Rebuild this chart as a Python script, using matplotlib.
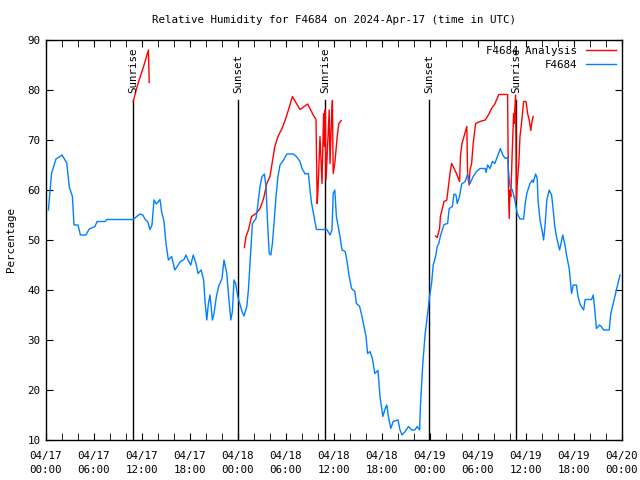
#!/usr/bin/env python3
"""Relative humidity for F4684 - observed vs. analysis, 3 days in UTC."""
import matplotlib
matplotlib.use('Agg')
import matplotlib.pyplot as plt

# ---------- Data (hours since 2024-04-17 00:00 UTC) ----------
obs_hours = [
    0.3, 0.7, 1.25, 2.0, 2.6, 2.9, 3.3, 3.5, 4.0, 4.3, 5.0, 5.4, 6.1, 6.4, 7.4, 7.6,
    10.9, 11.1, 11.75, 12.1, 12.4, 12.7, 13.0, 13.25, 13.5, 13.8, 14.25, 14.45, 14.75,
    15.0, 15.3, 15.7, 16.1, 16.4, 16.8, 17.25, 17.5, 17.75, 18.1, 18.4, 18.75, 19.0,
    19.4, 19.7, 19.9, 20.1, 20.3, 20.5, 20.8, 21.0, 21.3, 21.6, 22.0, 22.25, 22.6,
    22.8, 23.1, 23.3, 23.5, 23.7, 24.0, 24.5, 24.75, 25.1, 25.3, 25.5, 25.7, 25.8,
    26.25, 26.4, 26.75, 27.0, 27.3, 27.5, 27.7, 27.9, 28.1, 28.3, 28.5, 28.75, 29.0,
    29.25, 29.7, 30.1, 30.9, 31.3, 31.75, 32.0, 32.4, 32.8, 33.0, 33.2, 33.5, 33.8,
    35.1, 35.5, 35.75, 35.9, 36.1, 36.3, 36.75, 37.0, 37.4, 37.6, 37.9, 38.2, 38.6,
    38.8, 39.2, 39.5, 39.75, 40.0, 40.2, 40.5, 40.8, 41.1, 41.5, 41.75, 42.1, 42.4,
    42.6, 42.8, 43.1, 43.4, 44.0, 44.25, 44.5, 44.9, 45.3, 45.7, 46.1, 46.4, 46.7,
    46.8, 47.1, 47.4, 47.7, 48.0, 48.2, 48.4, 48.7, 48.9, 49.1, 49.3, 49.75, 50.2,
    50.4, 50.8, 51.0, 51.25, 51.4, 51.7, 51.96, 52.4, 52.7, 53.0, 53.4, 53.8, 54.25,
    54.9, 55.0, 55.2, 55.5, 55.8, 56.1, 56.5, 56.8, 57.1, 57.4, 57.7, 57.8, 58.0,
    58.3, 58.6, 58.9, 59.25, 59.7, 59.9, 60.1, 60.5, 60.8, 60.9, 61.2, 61.4, 61.5,
    61.75, 62.0, 62.2, 62.4, 62.6, 62.9, 63.2, 63.4, 63.6, 63.8, 64.2, 64.5, 64.6,
    64.9, 65.1, 65.4, 65.7, 65.9, 66.3, 66.5, 66.8, 67.2, 67.4, 68.2, 68.4, 68.6,
    68.8, 69.2, 69.4, 69.7, 70.4, 70.6, 70.9, 71.3, 71.75,
]
obs_rh = [
    56.0, 63.4, 66.2, 67.0, 65.4, 60.7, 58.7, 53.0, 53.0, 51.0, 51.0, 52.2, 52.7, 53.7, 53.7, 54.1,
    54.1, 54.4, 55.2, 55.0, 54.1, 53.7, 52.1, 53.0, 58.0, 57.2, 58.1, 55.7, 53.7,
    49.3, 46.0, 46.7, 44.0, 44.7, 45.7, 46.1, 47.0, 46.0, 45.0, 47.0, 45.3, 43.3,
    44.0, 42.0, 37.3, 34.0, 37.3, 39.0, 34.0, 35.3, 38.7, 40.8, 42.3, 46.0, 43.3,
    39.3, 34.0, 35.7, 42.0, 41.3, 38.5, 35.7, 34.8, 36.7, 40.0, 45.3, 50.7, 53.3,
    54.3, 56.0, 60.7, 62.7, 63.2, 60.7, 53.3, 47.3, 47.0, 49.3, 53.3, 58.7, 62.7,
    65.0, 66.0, 67.2, 67.2, 66.7, 65.7, 64.3, 63.2, 63.3, 60.0, 57.3, 54.7, 52.1,
    52.1, 51.0, 52.0, 59.3, 60.0, 54.7, 50.7, 48.0, 47.7, 46.0, 42.7, 40.3, 39.7,
    37.3, 36.7, 34.7, 32.7, 30.7, 27.3, 27.7, 26.3, 23.3, 23.9, 18.7, 14.7, 16.3,
    17.0, 14.7, 12.3, 13.7, 14.0, 12.0, 11.0, 11.7, 12.7, 12.0, 12.0, 12.7, 12.0,
    16.7, 25.3, 31.3, 35.3, 39.3, 41.3, 45.0, 46.7, 48.7, 49.3, 50.8, 53.1, 53.3,
    56.3, 56.7, 59.2, 59.0, 57.3, 58.8, 61.2, 61.7, 63.2, 61.3, 62.7, 63.7, 64.3,
    64.3, 63.5, 65.0, 64.3, 65.7, 65.3, 67.0, 68.3, 67.0, 66.3, 66.5, 64.0, 60.7,
    60.0, 58.0, 55.3, 54.2, 54.2, 57.3, 59.3, 61.3, 62.0, 61.5, 63.2, 62.3, 58.0,
    54.0, 52.0, 50.0, 53.3, 58.0, 60.0, 59.0, 56.0, 52.7, 50.7, 48.0, 50.3, 51.0,
    48.7, 46.7, 44.3, 39.3, 41.0, 41.0, 38.7, 37.0, 36.0, 38.1, 38.1, 39.0, 36.0,
    32.3, 33.0, 32.7, 32.0, 32.0, 35.3, 37.3, 40.0, 43.0,
]

# analysis series, None marks a gap
ana_hours = [
    10.9, 11.5, 12.2, 12.8, 12.9, None,
    24.8, 25.0, 25.3, 25.7, 26.25, 26.75, 27.2, 27.6, 28.0, 28.2, 28.6, 29.0, 29.5,
    29.9, 30.3, 30.8, 31.3, 31.75, 32.1, 32.7, 33.0, 33.4, 33.75, 33.9, 34.0, 34.25,
    34.5, 34.7, 34.8, 34.9, 35.0, 35.2, 35.4, 35.5, 35.7, 35.8, 35.9, 36.1, 36.25,
    36.4, 36.6, 36.9, None,
    48.7, 48.9, 49.2, 49.3, 49.6, 49.75, 50.1, 50.3, 50.5, 50.7, 50.9, 51.3, 51.7,
    51.8, 52.0, 52.3, 52.6, 52.7, 52.9, 53.0, 53.2, 53.4, 53.7, 54.25, 54.9, 55.3,
    55.7, 56.1, 56.6, 57.7, 57.8, 57.9, 58.0, 58.1, 58.3, 58.45, 58.5, 58.7, 58.8,
    58.9, 59.1, 59.25, 59.5, 59.7, 60.0, 60.2, 60.4, 60.6, 60.75, 60.9,
]
ana_rh = [
    77.7, 81.3, 84.7, 88.0, 81.5, None,
    48.5, 50.7, 52.0, 54.7, 55.3, 56.3, 58.3, 61.3, 62.7, 64.7, 68.7, 70.7, 72.3,
    74.0, 76.0, 78.7, 77.3, 76.1, 76.5, 77.2, 76.3, 75.0, 74.1, 57.3, 60.0, 70.7,
    61.3, 75.3, 68.7, 76.0, 62.0, 68.7, 76.0, 65.3, 74.7, 77.9, 63.3, 65.3, 68.0,
    70.7, 73.3, 73.9, None,
    50.8, 50.5, 52.3, 54.7, 56.7, 57.7, 58.0, 60.7, 63.3, 65.3, 64.7, 63.3, 61.7,
    66.7, 69.3, 71.0, 72.7, 63.0, 61.0, 64.0, 65.3, 69.3, 73.3, 73.7, 74.0, 75.0,
    76.3, 77.2, 79.1, 79.1, 60.7, 54.3, 60.0, 58.7, 68.7, 75.3, 73.3, 79.0, 58.0,
    61.3, 65.3, 70.7, 74.3, 77.7, 77.7, 75.3, 74.0, 71.9, 73.7, 74.7,
]

sun_hours = [10.9, 24.0, 34.9, 47.9, 58.75]
sun_labels = ['Sunrise', 'Sunset', 'Sunrise', 'Sunset', 'Sunrise']

tick_hours = [0, 6, 12, 18, 24, 30, 36, 42, 48, 54, 60, 66, 72]
tick_labels = ['04/17\n00:00', '04/17\n06:00', '04/17\n12:00', '04/17\n18:00',
               '04/18\n00:00', '04/18\n06:00', '04/18\n12:00', '04/18\n18:00',
               '04/19\n00:00', '04/19\n06:00', '04/19\n12:00', '04/19\n18:00',
               '04/20\n00:00']

FONT = 'DejaVu Sans Mono'
FS = 7.8

fig = plt.figure(figsize=(6.4, 4.8), dpi=100)
ax = fig.add_axes([46 / 640, 40 / 480, 576 / 640, 400 / 480])

# analysis (red) with gaps
ana_x = [float('nan') if h is None else h for h in ana_hours]
ana_y = [float('nan') if v is None else v for v in ana_rh]
ax.plot(ana_x, ana_y, '-', color='#ff0000', linewidth=1.0, label='F4684 Analysis', zorder=3)
ax.plot(obs_hours, obs_rh, '-', color='#0080ff', linewidth=1.0, label='F4684', zorder=3)

# sunrise / sunset markers
for h, lab in zip(sun_hours, sun_labels):
    ax.plot([h, h], [10, 78], '-', color='black', linewidth=1.0, zorder=2)
    ax.text(h, 79.4, lab, rotation=90, ha='center', va='bottom',
            fontsize=FS, family=FONT)

ax.set_xlim(0, 72)
ax.set_ylim(10, 90)
ax.set_xticks(tick_hours)
ax.set_xticklabels(tick_labels, fontsize=FS, family=FONT, linespacing=1.5)
ax.set_xticks(list(range(0, 73, 2)), minor=True)
ax.set_yticks(range(10, 91, 10))
ax.set_yticklabels([str(v) for v in range(10, 91, 10)], fontsize=FS, family=FONT)
ax.tick_params(which='both', direction='in', top=True, right=True)
ax.tick_params(axis='x', which='major', length=5, pad=8)
ax.tick_params(axis='y', which='major', length=5, pad=4)
ax.tick_params(which='minor', length=5)
ax.set_ylabel('Percentage', fontsize=FS, family=FONT, labelpad=8)
for spine in ax.spines.values():
    spine.set_linewidth(1.0)

ax.set_title('Relative Humidity for F4684 on 2024-Apr-17 (time in UTC)',
             fontsize=FS, family=FONT, pad=12)

leg = ax.legend(loc='upper right', frameon=False, prop={'family': FONT, 'size': FS},
                markerfirst=False, handlelength=2.8, borderaxespad=0.15,
                labelspacing=0.35, handletextpad=0.8)
for t in leg.get_texts():
    t.set_ha('right')

fig.savefig('out.png', dpi=100)
